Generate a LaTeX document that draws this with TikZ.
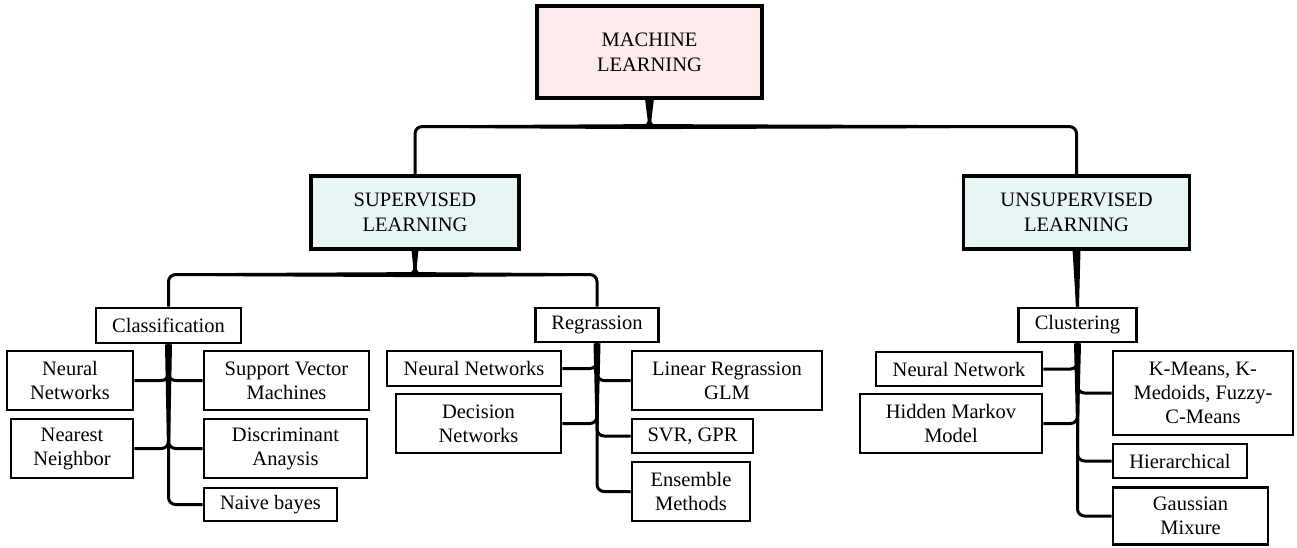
\documentclass[tikz,border=0pt]{standalone}
\usepackage{fontspec}
\setmainfont{Liberation Serif}
\usetikzlibrary{calc}
\definecolor{mlpink}{HTML}{FDEBEB}
\definecolor{subcyan}{HTML}{E7F5F5}
\tikzset{
  box/.style={draw=black, line width=2.8pt, fill=white, align=center, inner sep=0pt,
    font=\fontsize{20.5}{24}\selectfont},
  topbox/.style={box, line width=3.2pt, fill=mlpink, font=\fontsize{20.5}{25}\selectfont},
  midbox/.style={box, line width=3.2pt, fill=subcyan, font=\fontsize{20.5}{25}\selectfont},
  conn/.style={draw=black, line width=3pt, rounded corners=7pt},
  taper/.style={fill=black, draw=none},
}
\begin{document}
\begin{tikzpicture}[x=1pt,y=-1pt]
\useasboundingbox (0,0) rectangle (1297,547);
% top level
\node[topbox, minimum width=225pt, minimum height=92pt] (ml) at (649.5,52) {MACHINE\\LEARNING};
\node[midbox, minimum width=208pt, minimum height=73pt] (sup) at (415,212.5) {SUPERVISED\\LEARNING};
\node[midbox, minimum width=226pt, minimum height=73pt] (uns) at (1076.5,212.5) {UNSUPERVISED\\LEARNING};
% second level
\node[box, minimum width=145pt, minimum height=35pt] (cls) at (168.5,325.5) {Classification};
\node[box, minimum width=123pt, minimum height=34pt] (reg) at (597,325) {Regrassion};
\node[box, minimum width=118pt, minimum height=34pt] (clu) at (1077.5,325) {Clustering};
% classification children
\node[box, minimum width=126pt, minimum height=59pt] (nn1) at (70,380.5) {Neural\\Networks};
\node[box, minimum width=165pt, minimum height=59pt] (svm) at (286.5,380.5) {Support Vector\\Machines};
\node[box, minimum width=122pt, minimum height=59pt] (nnb) at (72,448.5) {Nearest\\Neighbor};
\node[box, minimum width=163pt, minimum height=59pt] (da) at (285.5,448.5) {Discriminant\\Anaysis};
\node[box, minimum width=133pt, minimum height=33pt] (nb) at (270.5,504.5) {Naive bayes};
% regression children
\node[box, minimum width=174pt, minimum height=35pt] (nn2) at (474,368.5) {Neural Networks};
\node[box, minimum width=165pt, minimum height=59pt] (dn) at (478.5,423.5) {Decision\\Networks};
\node[box, minimum width=190pt, minimum height=59pt] (lr) at (727,380.5) {Linear Regrassion\\GLM};
\node[box, minimum width=121pt, minimum height=34pt] (svr) at (692.5,436) {SVR, GPR};
\node[box, minimum width=118pt, minimum height=59pt] (em) at (691,491.5) {Ensemble\\Methods};
% clustering children
\node[box, minimum width=166pt, minimum height=34pt] (nn3) at (959,369) {Neural Network};
\node[box, minimum width=182pt, minimum height=59pt] (hmm) at (951,423.5) {Hidden Markov\\Model};
\node[box, minimum width=180pt, minimum height=84pt] (km) at (1203,393) {K-Means, K-\\Medoids, Fuzzy-\\C-Means};
\node[box, minimum width=134pt, minimum height=34pt] (hi) at (1180,461) {Hierarchical};
\node[box, minimum width=155pt, minimum height=57pt] (gm) at (1190.5,516) {Gaussian\\Mixure};

% connectors: top level
\draw[conn] (ml.south) -- ++(0,27) -| (sup.north);
\draw[conn] (ml.south) -- ++(0,27) -| (uns.north);
\fill[taper] ($(ml.south)+(-4.5,-1)$) -- ($(ml.south)+(4.5,-1)$) -- ($(ml.south)+(1,27)$) -- ($(ml.south)+(-1,27)$) -- cycle;
\fill[taper] ($(ml.south)+(-180,25.5)$) -- ($(ml.south)+(0,24.5)$) -- ($(ml.south)+(300,25.5)$) -- ($(ml.south)+(300,28.5)$) -- ($(ml.south)+(0,29.5)$) -- ($(ml.south)+(-180,28.5)$) -- cycle;
% supervised
\draw[conn] (sup.south) -- ++(0,24) -| (cls.north);
\draw[conn] (sup.south) -- ++(0,24) -| (reg.north);
\fill[taper] ($(sup.south)+(-3.5,-1)$) -- ($(sup.south)+(3.5,-1)$) -- ($(sup.south)+(1,24)$) -- ($(sup.south)+(-1,24)$) -- cycle;
\fill[taper] ($(sup.south)+(-200,22.5)$) -- ($(sup.south)+(0,21.5)$) -- ($(sup.south)+(150,22.5)$) -- ($(sup.south)+(150,25.5)$) -- ($(sup.south)+(0,26.5)$) -- ($(sup.south)+(-200,25.5)$) -- cycle;
% unsupervised
\draw[conn] (uns.south) -- (clu.north);
\fill[taper] ($(uns.south)+(-4,-1)$) -- ($(uns.south)+(4,-1)$) -- ($(clu.north)+(1.5,0)$) -- ($(clu.north)+(-1.5,0)$) -- cycle;

% classification
\foreach \c in {nn1,nnb} \draw[conn] (cls.south) |- (\c.east);
\foreach \c in {svm,da,nb} \draw[conn] (cls.south) |- (\c.west);
\fill[taper] ($(cls.south)+(-3.5,0)$) -- ($(cls.south)+(3.5,0)$) -- ($(cls.south |- da.west)+(1.5,0)$) -- ($(cls.south |- da.west)+(-1.5,0)$) -- cycle;
% regression
\foreach \c in {nn2,dn} \draw[conn] (reg.south) |- (\c.east);
\foreach \c in {lr,svr,em} \draw[conn] (reg.south) |- (\c.west);
\fill[taper] ($(reg.south)+(-3.5,0)$) -- ($(reg.south)+(3.5,0)$) -- ($(reg.south |- dn.east)+(1.5,0)$) -- ($(reg.south |- dn.east)+(-1.5,0)$) -- cycle;
% clustering
\foreach \c in {nn3,hmm} \draw[conn] (clu.south) |- (\c.east);
\foreach \c in {km,hi,gm} \draw[conn] (clu.south) |- (\c.west);
\fill[taper] ($(clu.south)+(-3.5,0)$) -- ($(clu.south)+(3.5,0)$) -- ($(clu.south |- hmm.east)+(1.5,0)$) -- ($(clu.south |- hmm.east)+(-1.5,0)$) -- cycle;
\end{tikzpicture}
\end{document}
